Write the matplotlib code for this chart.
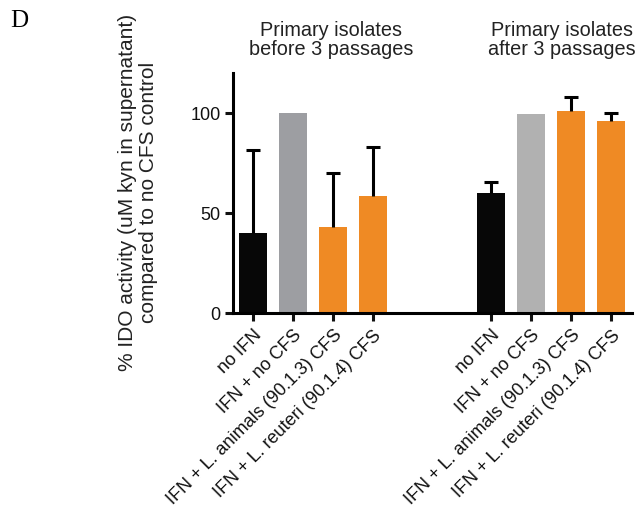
import matplotlib
matplotlib.use("Agg")
import matplotlib.pyplot as plt
import numpy as np

plt.rcParams['font.family'] = ['Liberation Sans', 'DejaVu Sans']

categories = ["no IFN", "IFN + no CFS", "IFN + L. animals (90.1.3) CFS", "IFN + L. reuteri (90.1.4) CFS"]
before_vals = [40, 100, 43, 58.5]
before_err = [41.5, 0, 27, 24.5]
after_vals = [60, 99.5, 101, 96]
after_err = [5.5, 0, 7, 4]
group_titles = ["Primary isolates\nbefore 3 passages", "Primary isolates\nafter 3 passages"]
before_colors = ["#070707", "#9d9ea2", "#ef8a24", "#ef8a24"]
after_colors = ["#070707", "#b1b1b1", "#ef8a24", "#ef8a24"]

W, H = 639, 514
fig = plt.figure(figsize=(W / 100, H / 100), dpi=100)
ax = fig.add_axes([233 / W, 1 - 313 / H, (632 - 233) / W, (313 - 73) / H])

pos1 = np.arange(4)
pos2 = np.arange(4) + 5.95
lw = 2.2
ax.bar(pos1, before_vals, width=0.7, color=before_colors, zorder=2)
ax.bar(pos2, after_vals, width=0.7, color=after_colors, zorder=2)
for pos, vals, errs in [(pos1, before_vals, before_err), (pos2, after_vals, after_err)]:
    for p, v, e in zip(pos, vals, errs):
        if e > 0:
            ax.errorbar(p, v, yerr=[[0], [e]], fmt='none', ecolor='black',
                        elinewidth=lw, capsize=0, zorder=3)
            ax.plot([p], [v + e], marker='_', markersize=10, mew=lw, color='black',
                    zorder=3, clip_on=False)

ax.set_xlim(-0.5, 9.47)
ax.set_ylim(0, 120)
ax.set_yticks([0, 50, 100])
ax.set_xticks(list(pos1) + list(pos2))
ax.set_xticklabels(categories + categories, rotation=45, ha='right',
                   rotation_mode='anchor', fontsize=13)
ax.tick_params(axis='both', width=lw, length=6, labelsize=13, pad=3, colors='#111111')
ax.tick_params(axis='x', pad=4)
for s in ['top', 'right']:
    ax.spines[s].set_visible(False)
for s in ['left', 'bottom']:
    ax.spines[s].set_linewidth(lw)

fig.text(331 / W, 1 - 40 / H, group_titles[0], ha='center', va='center', fontsize=14.3,
         color='#222222', linespacing=1.05)
fig.text(562 / W, 1 - 40 / H, group_titles[1], ha='center', va='center', fontsize=14.3,
         color='#222222', linespacing=1.05)
fig.text(138 / W, 1 - 192 / H, "% IDO activity (uM kyn in supernatant)\ncompared to no CFS control",
         rotation=90, ha='center', va='center', fontsize=15, color='#222222', linespacing=1.1)
fig.text(10 / W, 1 - 21 / H, "D", family=['Liberation Serif', 'DejaVu Serif'], fontsize=18,
         ha='left', va='center')

fig.savefig("out.png", dpi=100)
